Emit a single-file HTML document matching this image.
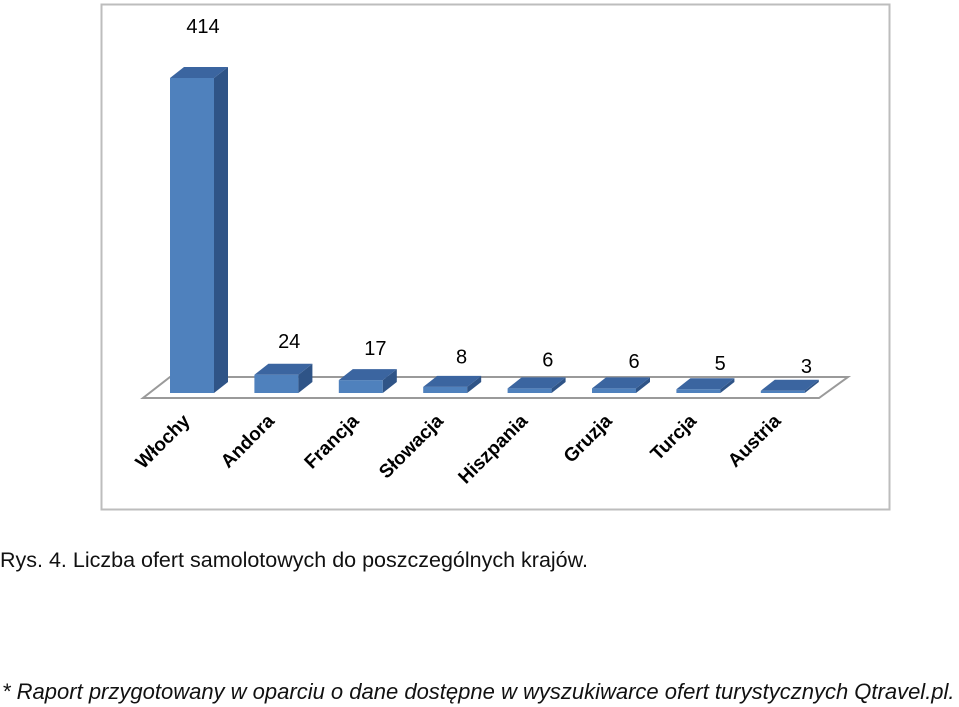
<!DOCTYPE html>
<html><head><meta charset="utf-8">
<style>
body{margin:0;background:#fff;width:959px;height:707px;overflow:hidden;position:relative;font-family:"Liberation Sans",sans-serif}
#cap{position:absolute;left:0;top:548px;font-size:21.5px;color:#111;white-space:nowrap}
#foot{position:absolute;left:2px;top:679px;font-size:22px;font-style:italic;color:#111;white-space:nowrap}
</style></head><body>
<svg width="959" height="707" style="position:absolute;left:0;top:0">
<rect x="101.5" y="4.5" width="788" height="505" fill="#fff" stroke="#bdbdbd" stroke-width="2"/>
<polygon points="170,377 848,377 819,398 143,398" fill="#fff" stroke="#9a9a9a" stroke-width="2"/>
<g id="bars"></g>
<g id="labels" font-family="Liberation Sans, sans-serif" font-size="20" fill="#000"></g>
<g id="cats" font-family="Liberation Sans, sans-serif" font-size="19" font-weight="bold" fill="#000"></g>
</svg>
<div id="cap">Rys. 4. Liczba ofert samolotowych do poszczególnych krajów.</div>
<div id="foot">* Raport przygotowany w oparciu o dane dostępne w wyszukiwarce ofert turystycznych Qtravel.pl.</div>
<script>
const categories=["Włochy","Andora","Francja","Słowacja","Hiszpania","Gruzja","Turcja","Austria"];
const values=[414,24,17,8,6,6,5,3];
const valueLabels=["414","24","17","8","6","6","5","3"];
const NS="http://www.w3.org/2000/svg";
const x0=170,step=84.4,bw=44,base=393,scale=315/414,dx=14,dy=-11;
const xs=i=>x0+i*step;
const ys=v=>base-v*scale;
const bars=document.getElementById('bars'),labs=document.getElementById('labels'),cats=document.getElementById('cats');
function poly(pts,fill,name){const p=document.createElementNS(NS,'polygon');p.setAttribute('points',pts.map(a=>a.join(',')).join(' '));p.setAttribute('fill',fill);


bars.appendChild(p);}
values.forEach((v,i)=>{
 const x=xs(i),t=ys(v);
 poly([[x,t],[x+bw,t],[x+bw,base],[x,base]],'#4f81bd','bar-front-'+i);
 poly([[x+bw,t],[x+bw+dx,t+dy],[x+bw+dx,base+dy],[x+bw,base]],'#2f5487','bar-side-'+i);
 poly([[x,t],[x+dx,t+dy],[x+bw+dx,t+dy],[x+bw,t]],'#3b65a0','bar-top-'+i);
 const tx=document.createElementNS(NS,'text');
 tx.setAttribute('x',x+bw/2+11+i*1.8);tx.setAttribute('y',(i==0?t-45:t-28)+i*1.5);tx.setAttribute('text-anchor','middle');
 tx.textContent=valueLabels[i];
 
 
 labs.appendChild(tx);
 const c=document.createElementNS(NS,'text');
 const cx=x+bw/2-1,cy=422;
 c.setAttribute('x',cx);c.setAttribute('y',cy);c.setAttribute('text-anchor','end');
 c.setAttribute('transform','rotate(-45 '+cx+' '+cy+')');
 c.textContent=categories[i];
 
 
 cats.appendChild(c);
});
</script>
</body></html>
